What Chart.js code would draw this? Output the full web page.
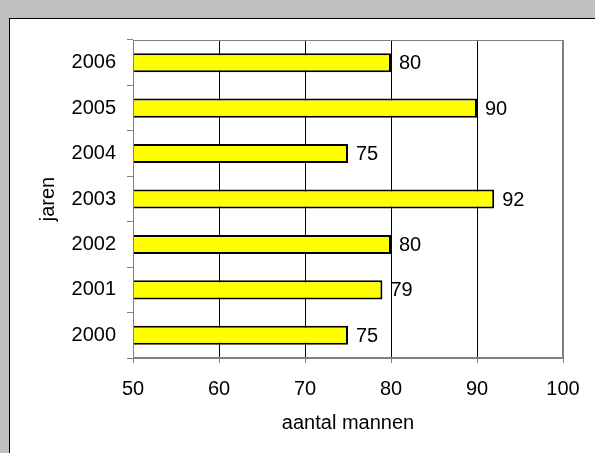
<!DOCTYPE html>
<html>
<head>
<meta charset="utf-8">
<script src="https://cdn.jsdelivr.net/npm/chart.js@4/dist/chart.umd.min.js"></script>
<style>
  html, body { margin:0; padding:0; background:#c0c0c0; width:595px; height:453px; overflow:hidden; }
  #panel { position:absolute; left:9px; top:18px; width:600px; height:450px; background:#fff; border:1px solid #000; }
  #c { position:absolute; left:0; top:0; }
</style>
</head>
<body>
<div id="panel"></div>
<canvas id="c" width="595" height="453"></canvas>
<script>
const years = ["2006","2005","2004","2003","2002","2001","2000"];
const mannen = [80, 90, 75, 92, 80, 79, 75];
const xTicks = [50, 60, 70, 80, 90, 100];

const FONT = "'Liberation Sans', Arial, sans-serif";

// grey frame round the plot area
const frame = {
  id: "frame",
  afterDraw(chart){
    const a = chart.chartArea, ctx = chart.ctx;
    ctx.save();
    ctx.strokeStyle = "#808080";
    ctx.lineWidth = 1;
    ctx.strokeRect(a.left + 0.5, a.top + 0.5, a.right - a.left - 1, a.bottom - a.top - 1);
    ctx.restore();
  }
};

// value labels right of each bar
const valueLabels = {
  id: "valueLabels",
  afterDatasetsDraw(chart){
    const ctx = chart.ctx;
    const meta = chart.getDatasetMeta(0);
    ctx.save();
    ctx.font = "20px " + FONT;
    ctx.fillStyle = "#000";
    ctx.textAlign = "left";
    ctx.textBaseline = "middle";
    meta.data.forEach((bar, i) => {
      ctx.fillText(String(mannen[i]), bar.x + 8, bar.y + 1);
    });
    ctx.restore();
  }
};

new Chart(document.getElementById("c"), {
  type: "bar",
  data: {
    labels: years,
    datasets: [{
      data: mannen,
      backgroundColor: "#ffff00",
      borderColor: "#000",
      borderWidth: 2,
      borderSkipped: false,
      barPercentage: 0.42,
      categoryPercentage: 1
    }]
  },
  options: {
    indexAxis: "y",
    responsive: false,
    animation: false,
    devicePixelRatio: 1,
    layout: { padding: { left: 0, right: 32, top: 40, bottom: 0 } },
    plugins: { legend: { display: false }, tooltip: { enabled: false } },
    scales: {
      x: {
        min: 50, max: 100,
        afterBuildTicks: s => { s.ticks = xTicks.map(v => ({ value: v })); },
        afterFit: s => { s.height = 95; },
        grid: {
          color: c => (c.tick && (c.tick.value === 50 || c.tick.value === 100)) ? "#808080" : "#000",
          tickColor: "#808080",
          tickLength: 5,
          drawTicks: true
        },
        border: { display: true, color: "#808080" },
        ticks: { color: "#000", font: { family: FONT, size: 20 }, padding: 14, maxRotation: 0, autoSkip: false },
        title: { display: true, text: "aantal mannen", color: "#000", font: { family: FONT, size: 20 }, padding: { top: 0, bottom: 18 } }
      },
      y: {
        afterFit: s => { s.width = 133; },
        grid: { drawOnChartArea: false, tickColor: "#808080", tickLength: 6, offset: true },
        border: { display: true, color: "#808080" },
        ticks: { color: "#000", font: { family: FONT, size: 20 }, padding: 11, autoSkip: false },
        title: { display: true, text: "jaren", color: "#000", font: { family: FONT, size: 20 }, padding: { top: 36, bottom: 0 } }
      }
    }
  },
  plugins: [frame, valueLabels]
});
</script>
</body>
</html>
